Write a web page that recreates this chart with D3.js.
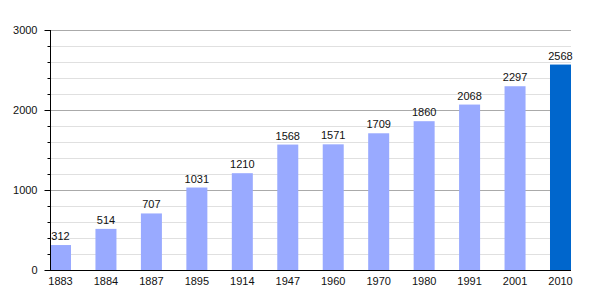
<!DOCTYPE html>
<html><head><meta charset="utf-8">
<script src="https://cdn.jsdelivr.net/npm/d3@7"></script>
<style>body{margin:0;background:#fff}svg{display:block}text{font-family:"Liberation Sans",Arial,sans-serif;font-size:11px;fill:#111}</style>
</head><body>
<script>
const years = ["1883","1884","1887","1895","1914","1947","1960","1970","1980","1991","2001","2010"];
const population = [312,514,707,1031,1210,1568,1571,1709,1860,2068,2297,2568];
const yTicks = [0,1000,2000,3000];

const W=600,H=300,L=50,R=571,T=30,B=270;
const svg=d3.select("body").append("svg").attr("width",W).attr("height",H);
const x=d3.scaleBand().domain(years).range([L,R]).paddingInner(1-21/45.45).paddingOuter(0);
const y=d3.scaleLinear().domain([0,3000]).range([B,T]);

const minor=d3.range(0,3001,200).filter(v=>v%1000!==0);
svg.append("g").selectAll("line").data(minor).join("line")
 .attr("x1",L).attr("x2",R).attr("y1",d=>y(d)+0.5).attr("y2",d=>y(d)+0.5).attr("stroke","#e0e0e0");
svg.append("g").selectAll("line").data(yTicks.filter(v=>v>0)).join("line")
 .attr("x1",L).attr("x2",R).attr("y1",d=>y(d)+0.5).attr("y2",d=>y(d)+0.5).attr("stroke","#aaa");

svg.append("g").selectAll("rect").data(population).join("rect")
 .attr("x",(d,i)=>x(years[i])).attr("width",x.bandwidth())
 .attr("y",d=>y(d)).attr("height",d=>B-y(d))
 .attr("fill",(d,i)=>i===years.length-1?"#0066cc":"#99aaff");

svg.append("g").selectAll("text").data(population).join("text")
 .attr("x",(d,i)=>x(years[i])+x.bandwidth()/2).attr("y",d=>y(d)-5)
 .attr("text-anchor","middle").text(d=>d);

// y axis
const ya=svg.append("g").attr("transform",`translate(${L+0.5},0)`);
ya.call(d3.axisLeft(y).tickValues(yTicks).tickSize(6).tickPadding(7).tickFormat(d3.format("d")));
ya.selectAll(".tick line").attr("stroke","#000");
ya.selectAll(".tick text").attr("font-family",null).attr("font-size",null).style("fill","#111");
ya.select(".domain").attr("stroke","#000").attr("d",`M0,${T}V${B}`);
ya.append("g").selectAll("line").data(minor).join("line")
 .attr("x1",-3).attr("x2",0).attr("y1",d=>y(d)+0.5).attr("y2",d=>y(d)+0.5).attr("stroke","#000");

// x axis
const xa=svg.append("g").attr("transform",`translate(0,${B+0.5})`);
xa.call(d3.axisBottom(x).tickSize(0).tickPadding(7));
xa.select(".domain").attr("stroke","#000").attr("d",`M${L},0H${R}`);
xa.selectAll(".tick text").attr("font-family",null).attr("font-size",null).style("fill","#111");
</script>
</body></html>
